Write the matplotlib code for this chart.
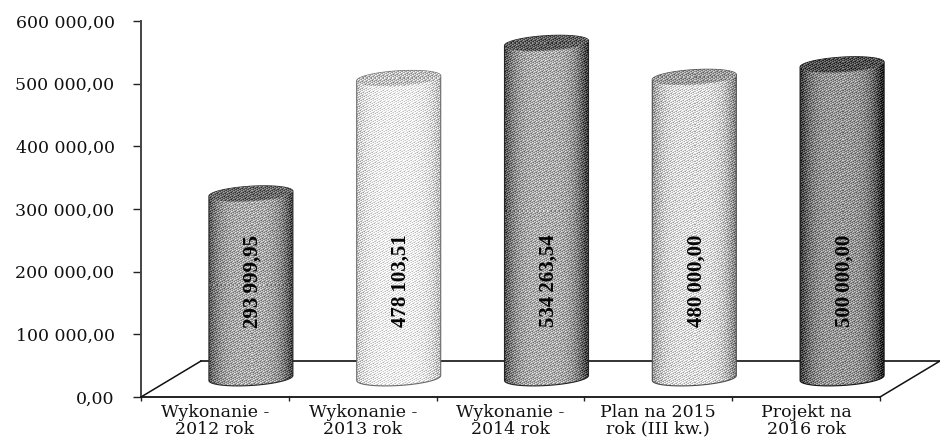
import numpy as np
import matplotlib
matplotlib.use("Agg")
import matplotlib.pyplot as plt
from matplotlib.path import Path
from matplotlib.patches import PathPatch
from matplotlib.ticker import FuncFormatter

categories = ["Wykonanie -\n2012 rok", "Wykonanie -\n2013 rok", "Wykonanie -\n2014 rok",
              "Plan na 2015\nrok (III kw.)", "Projekt na\n2016 rok"]
values = [293999.95, 478103.51, 534263.54, 480000.00, 500000.00]
value_labels = ["293\u2009999,95", "478\u2009103,51", "534\u2009263,54", "480\u2009000,00", "500\u2009000,00"]
y_ticks = [0, 100000, 200000, 300000, 400000, 500000, 600000]
# (edge grey, centre grey) of each cylinder's shading
shades = [(70, 170), (190, 245), (65, 172), (135, 222), (35, 150)]
top_greys = [105, 190, 95, 155, 80]

W, H = 940, 444
X0, X1, Y0, Y1 = 141, 880, 397, 21      # plot frame in pixels

fig = plt.figure(figsize=(W / 100, H / 100), dpi=100, facecolor="white")
ax = fig.add_axes([X0 / W, 1 - Y0 / H, (X1 - X0) / W, (Y0 - Y1) / H])
ax.set_xlim(0, 5)
ax.set_ylim(0, 600000)

px_x = 5 / (X1 - X0)            # category units per pixel
px_y = 600000 / (Y0 - Y1)       # value units per pixel
depth_x, depth_y = 60 * px_x, 36 * px_y
half_w = 42 * px_x
ell_h = 7.5 * px_y
tilt = 2.5 * px_y
base_lift = 19 * px_y
col_shift = 36 * px_x           # columns stand mid-depth in the 3D box


def dithered(grey):
    """Quasi-irregular ordered dither of a grey array, giving a printed speckle."""
    rows, cols = grey.shape
    yy, xx = np.mgrid[:rows, :cols]
    threshold = np.mod(xx * 0.7548776662 + yy * 0.5698402910, 1.0)
    return np.clip(grey + (threshold - 0.5) * 125, 0, 255)


def ellipse_pts(cx, cy, start, stop, n=60):
    t = np.linspace(start, stop, n)
    return np.column_stack([cx + half_w * np.cos(t),
                            cy + ell_h * np.sin(t) + tilt * np.cos(t)])


# floor of the 3D box
ax.plot([0, depth_x], [0, depth_y], color="#111111", lw=1.1, clip_on=False, zorder=2)
ax.plot([5, 5 + depth_x], [0, depth_y], color="#111111", lw=1.1, clip_on=False, zorder=2)
ax.plot([depth_x, 5 + depth_x], [depth_y, depth_y], color="#111111", lw=1.2, clip_on=False, zorder=2)

for i, (val, lab) in enumerate(zip(values, value_labels)):
    cx = i + 0.5 + col_shift
    base = base_lift
    top = base + val

    # body outline: lower half of the base ellipse, then up to the top ellipse
    lower = ellipse_pts(cx, base, np.pi, 2 * np.pi)
    upper = ellipse_pts(cx, top, 0, np.pi)
    body = Path(np.vstack([lower, upper, lower[:1]]))

    edge, centre = shades[i]
    nx = 84
    ny = int(val / px_y + 4 * ell_h / px_y) + 1
    u = np.linspace(-1, 1, nx)
    profile = edge + (centre - edge) * (1 - np.abs(u + 0.05) ** 3.6).clip(0, 1)
    grey = np.tile(profile, (ny, 1))
    img = ax.imshow(dithered(grey), cmap="gray", vmin=0, vmax=255, aspect="auto",
                    interpolation="nearest", zorder=3,
                    extent=[cx - half_w, cx + half_w, base - 2 * ell_h, base - 2 * ell_h + ny * px_y])
    patch = PathPatch(body, facecolor="none", edgecolor="none", transform=ax.transData)
    ax.add_patch(patch)
    img.set_clip_box(fig.bbox)
    img.set_clip_path(patch)
    outline = str(round(edge * 0.55 / 255, 3))
    ax.add_patch(PathPatch(body, facecolor="none", edgecolor=outline, lw=0.8, zorder=4, clip_on=False))

    # darker inside of the lid
    lid_pts = ellipse_pts(cx, top, 0, 2 * np.pi)
    lid = PathPatch(Path(lid_pts), facecolor="none", edgecolor="none", transform=ax.transData)
    ax.add_patch(lid)
    ly = int(4 * ell_h / px_y)
    lid_grey = np.full((ly, nx), float(top_greys[i]))
    lid_img = ax.imshow(dithered(lid_grey), cmap="gray", vmin=0, vmax=255, aspect="auto",
                        interpolation="nearest", zorder=5,
                        extent=[cx - half_w, cx + half_w, top - 2 * ell_h, top - 2 * ell_h + ly * px_y])
    lid_img.set_clip_box(fig.bbox)
    lid_img.set_clip_path(lid)

    # value printed up the column
    ax.text(cx + 2 * px_x, (Y0 - 281) * px_y, lab, rotation=90, ha="center", va="center",
            family="Liberation Serif", weight="bold", fontsize=15, color="#050505", zorder=6)

ax.set_xlim(0, 5)
ax.set_ylim(0, 600000)

ax.set_yticks(y_ticks)
ax.yaxis.set_major_formatter(FuncFormatter(
    lambda v, _: f"{int(v):,}".replace(",", " ") + ",00"))
ax.set_xticks(range(6))
ax.set_xticklabels([])
ax.set_xticks(np.arange(5) + 0.5, categories, minor=True)
ax.tick_params(axis="y", length=6, width=1, color="#222222", pad=13,
               labelsize=12.5, labelcolor="#111111")
ax.tick_params(axis="x", which="major", length=3, width=1, color="#222222")
ax.tick_params(axis="x", which="minor", length=0, pad=5, labelsize=12.5, labelcolor="#111111")
for t in ax.get_yticklabels() + ax.get_xticklabels(minor=True):
    t.set_family("DejaVu Serif")
for t in ax.get_xticklabels(minor=True):
    t.set_linespacing(0.97)

for side in ("top", "right"):
    ax.spines[side].set_visible(False)
ax.spines["left"].set_color("#444444")
ax.spines["left"].set_linewidth(1.4)
ax.spines["bottom"].set_color("#111111")
ax.spines["bottom"].set_linewidth(1.3)
ax.patch.set_alpha(0)

fig.savefig("out.png", dpi=100, facecolor="white")
